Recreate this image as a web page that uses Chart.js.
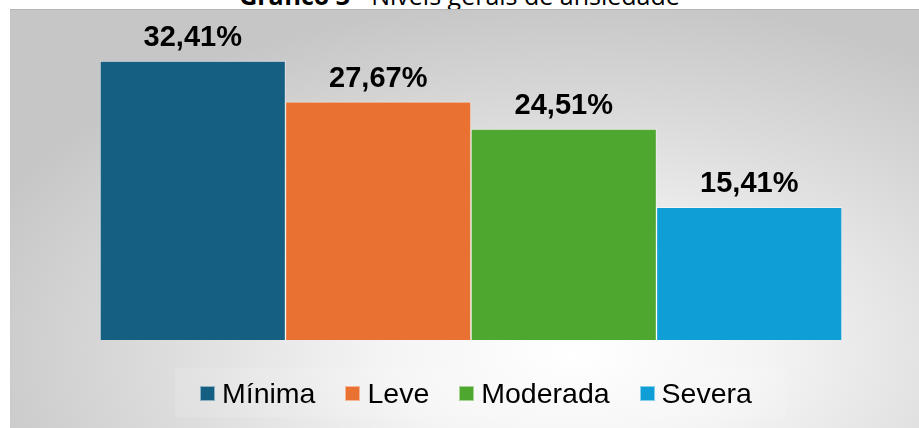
<!DOCTYPE html>
<html>
<head>
<meta charset="utf-8">
<script src="https://cdn.jsdelivr.net/npm/chart.js@4/dist/chart.umd.min.js"></script>
<style>
  html, body { margin: 0; padding: 0; background: #fff; }
  #wrap { position: relative; width: 919px; height: 428px; overflow: hidden; }
  #title {
    position: absolute; left: 0; top: -17px; width: 919px; text-align: center;
    font-family: "Open Sans", sans-serif; font-size: 25px; line-height: 25px; color: #000;
    z-index: 0;
  }
  #panel {
    position: absolute; left: 10px; top: 9px; width: 909px; height: 419px;
    border-top: 1px solid #b5b5b5; box-sizing: border-box;
    background: radial-gradient(ellipse 70% 85% at 62% 82%, #ffffff 0%, #f4f4f4 30%, #dcdcdc 65%, #c6c6c6 100%);
    z-index: 1;
  }
  #legendBand {
    position: absolute; left: 175px; top: 368px; width: 610px; height: 49px;
    background: rgba(255,255,255,0.12); z-index: 2;
  }
  canvas { position: absolute; left: 0; top: 0; z-index: 3; }
  #legend {
    position: absolute; left: 200px; top: 378px; display: flex; z-index: 4;
    font-family: Arial, "Liberation Sans", sans-serif; font-size: 28.5px; line-height: 30px; color: #000;
  }
  #legend .item { display: flex; align-items: center; margin-right: 30px; }
  #legend .box { width: 15px; height: 15px; margin-right: 7px; box-sizing: border-box; border: 1px solid rgba(255,255,255,0.5); }
</style>
</head>
<body>
<div id="wrap">
  <div id="title"><b>Gráfico 3</b> - Níveis gerais de ansiedade</div>
  <div id="panel"></div>
  <div id="legendBand"></div>
  <canvas id="chart" width="919" height="428"></canvas>
  <div id="legend"></div>
</div>
<script>
// dados
const categories = ["Mínima", "Leve", "Moderada", "Severa"];
const values = [32.41, 27.67, 24.51, 15.41];
const colors = ["#156082", "#E97132", "#4EA72E", "#0F9ED5"];

function fmt(v) {
  return v.toFixed(2).replace(".", ",") + "%";
}

// rótulos de valor acima das barras
const valueLabels = {
  id: "valueLabels",
  afterDatasetsDraw(chart) {
    const ctx = chart.ctx;
    const meta = chart.getDatasetMeta(0);
    ctx.save();
    ctx.font = "bold 29px Arial, 'Liberation Sans', sans-serif";
    ctx.fillStyle = "#000";
    ctx.textAlign = "center";
    ctx.textBaseline = "alphabetic";
    meta.data.forEach((bar, i) => {
      ctx.fillText(fmt(values[i]), bar.x, bar.y - 15);
    });
    ctx.restore();
  },
};

const ctx = document.getElementById("chart").getContext("2d");
new Chart(ctx, {
  type: "bar",
  data: {
    labels: categories,
    datasets: [
      {
        data: values,
        backgroundColor: colors,
        borderColor: "rgba(255,255,255,0.45)",
        borderWidth: 1,
        categoryPercentage: 1,
        barPercentage: 1,
      },
    ],
  },
  options: {
    responsive: false,
    animation: false,
    devicePixelRatio: 1,
    layout: { padding: { left: 100, right: 77, top: 38.7, bottom: 88 } },
    scales: {
      x: { display: false },
      y: { display: false, min: 0, max: 35 },
    },
    plugins: {
      legend: { display: false },
      tooltip: { enabled: false },
    },
  },
  plugins: [valueLabels],
});

// legenda em HTML
const legend = document.getElementById("legend");
categories.forEach((c, i) => {
  const item = document.createElement("div");
  item.className = "item";
  const box = document.createElement("span");
  box.className = "box";
  box.style.background = colors[i];
  const txt = document.createElement("span");
  txt.textContent = c;
  item.appendChild(box);
  item.appendChild(txt);
  legend.appendChild(item);
});
</script>
</body>
</html>
